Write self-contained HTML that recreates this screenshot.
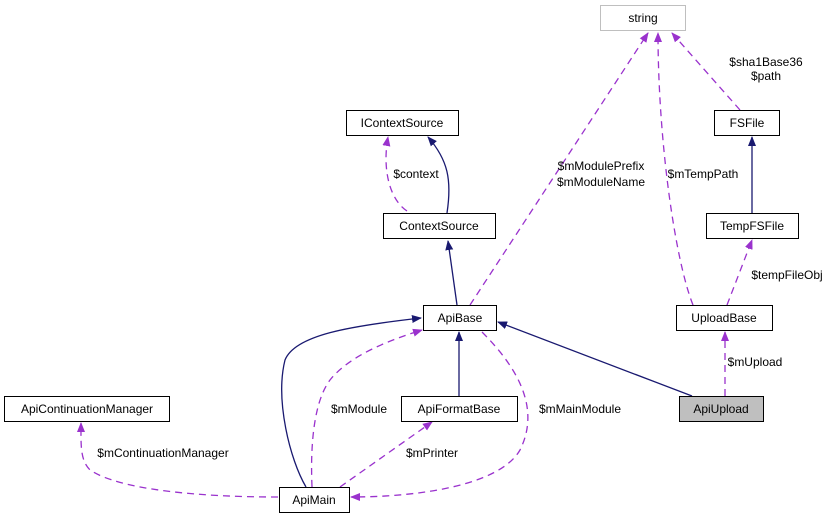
<!DOCTYPE html>
<html><head><style>body{margin:0;background:#fff}svg{display:block}text{font-family:"Liberation Sans",sans-serif;font-size:12px}</style></head>
<body>
<svg width="828" height="517" viewBox="0 0 828 517" xmlns="http://www.w3.org/2000/svg">
<defs>
<marker id="n" markerWidth="10" markerHeight="10" refX="9" refY="5" orient="auto" markerUnits="userSpaceOnUse"><path d="M0,1 L10,5 L0,9 Z" fill="#191970"/></marker>
<marker id="p" markerWidth="10" markerHeight="10" refX="9" refY="5" orient="auto" markerUnits="userSpaceOnUse"><path d="M0,1 L10,5 L0,9 Z" fill="#9a32cd"/></marker>
</defs>
<g fill="none" stroke="#191970" stroke-width="1.3">
<path d="M447,213 C452,180 448,160 428,137" marker-end="url(#n)"/>
<path d="M457,305 L448,241" marker-end="url(#n)"/>
<path d="M752,213 L752,137" marker-end="url(#n)"/>
<path d="M692,396 L498,322" marker-end="url(#n)"/>
<path d="M459,396 L459,332" marker-end="url(#n)"/>
<path d="M306,487 C290,460 275,400 285,360 C295,335 350,326 421,318" marker-end="url(#n)"/>
</g>
<g fill="none" stroke="#9a32cd" stroke-width="1.3" stroke-dasharray="7,5">
<path d="M407,211 C390,200 382,170 388,137" marker-end="url(#p)"/>
<path d="M470,305 L648,33" marker-end="url(#p)"/>
<path d="M693,305 C675,260 658,140 658,33" marker-end="url(#p)"/>
<path d="M740,110 L672,33" marker-end="url(#p)"/>
<path d="M727,305 L752,240" marker-end="url(#p)"/>
<path d="M725,396 L725,332" marker-end="url(#p)"/>
<path d="M312,487 C310,440 315,400 330,380 C350,355 390,340 422,330" marker-end="url(#p)"/>
<path d="M482,332 C520,370 540,410 520,450 C500,485 420,497 351,497" marker-end="url(#p)"/>
<path d="M340,487 L432,422" marker-end="url(#p)"/>
<path d="M278,497 C200,497 120,490 90,470 C80,460 81,445 81,423" marker-end="url(#p)"/>
</g>
<g stroke-width="1">
<rect x="600.5" y="5.5" width="85" height="25" fill="#fff" stroke="#bfbfbf"/>
<rect x="346.5" y="110.5" width="112" height="25" fill="#fff" stroke="#000"/>
<rect x="714.5" y="110.5" width="65" height="25" fill="#fff" stroke="#000"/>
<rect x="383.5" y="213.5" width="112" height="25" fill="#fff" stroke="#000"/>
<rect x="706.5" y="213.5" width="92" height="25" fill="#fff" stroke="#000"/>
<rect x="423.5" y="305.5" width="73" height="25" fill="#fff" stroke="#000"/>
<rect x="676.5" y="305.5" width="96" height="25" fill="#fff" stroke="#000"/>
<rect x="4.5" y="396.5" width="165" height="25" fill="#fff" stroke="#000"/>
<rect x="401.5" y="396.5" width="116" height="25" fill="#fff" stroke="#000"/>
<rect x="679.5" y="396.5" width="84" height="25" fill="#bfbfbf" stroke="#000"/>
<rect x="279.5" y="487.5" width="70" height="25" fill="#fff" stroke="#000"/>
</g>
<g text-anchor="middle" fill="#000">
<text x="643" y="22">string</text>
<text x="402" y="127">IContextSource</text>
<text x="747" y="127">FSFile</text>
<text x="439" y="230">ContextSource</text>
<text x="752" y="230">TempFSFile</text>
<text x="460" y="322">ApiBase</text>
<text x="724" y="322">UploadBase</text>
<text x="87" y="413">ApiContinuationManager</text>
<text x="459" y="413">ApiFormatBase</text>
<text x="721" y="413">ApiUpload</text>
<text x="314" y="504">ApiMain</text>
<text x="416" y="178">$context</text>
<text x="601" y="170">$mModulePrefix</text>
<text x="601" y="186">$mModuleName</text>
<text x="703" y="178">$mTempPath</text>
<text x="766" y="66">$sha1Base36</text>
<text x="766" y="80">$path</text>
<text x="787" y="279">$tempFileObj</text>
<text x="755" y="366">$mUpload</text>
<text x="359" y="413">$mModule</text>
<text x="580" y="413">$mMainModule</text>
<text x="432" y="457">$mPrinter</text>
<text x="163" y="457">$mContinuationManager</text>
</g>
</svg>
</body></html>
